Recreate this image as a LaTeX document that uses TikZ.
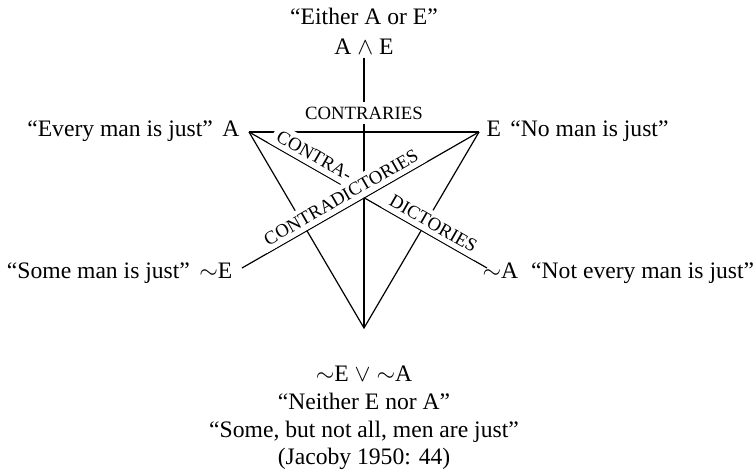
\documentclass[tikz,border=0pt]{standalone}
\usepackage{fontspec}
\setmainfont{Liberation Serif}
\begin{document}
\begin{tikzpicture}[x=0.5bp, y=0.5bp, line width=0.6bp,
    txt/.style={font=\fontsize{11.85}{14}\selectfont, inner sep=0pt},
    lab/.style={font=\fontsize{9.4}{11}\selectfont, fill=white, inner sep=2.5bp}]
    \useasboundingbox (0,0) rectangle (756,475);

    % corners
    \coordinate (A) at (249,343);
    \coordinate (E) at (479,343);
    \coordinate (nE) at (242,207);
    \coordinate (nA) at (487,207);
    \coordinate (bot) at (364,147);

    % top
    \node[txt, anchor=base] (either) at (364,450) {“Either A or E”};
    \node[txt, anchor=base, inner sep=1bp] (AE) at (364,420) {A $\wedge$ E};

    % corner texts
    \node[txt, anchor=base east] (Alab) at (240,338) {“Every man is just”\hspace{0.4em}A};
    \node[txt, anchor=base west] (Elab) at (486,338) {E\hspace{0.4em}“No man is just”};
    \node[txt, anchor=base east] (nElab) at (233,196) {“Some man is just”\hspace{0.4em}$\sim$E};
    \node[txt, anchor=base west] (nAlab) at (482,196) {$\sim$A\hspace{0.55em}“Not every man is just”};

    % bottom
    \node[txt, anchor=base] (neither) at (364,93) {$\sim$E $\vee$ $\sim$A};
    \node[txt, anchor=base] (q1) at (364,65) {“Neither E nor A”};
    \node[txt, anchor=base] (q2) at (364,37) {“Some, but not all, men are just”};
    \node[txt, anchor=base] (src) at (364,10) {(Jacoby 1950: 44)};

    % lines
    \draw (A) -- (E);
    \draw (AE.south) -- (bot);
    \draw (A) -- (bot) -- (E);
    \draw (A) -- (nA);
    \draw (E) -- (nE);

    % labels
    \node[lab] (contr) at (364,362) {CONTRARIES};
    \path (A) -- node[lab, sloped, above, pos=0.25] (cd1) {CONTRA-}
                 node[lab, sloped, above, pos=0.75] (cd2) {DICTORIES} (nA);
    \path (nE) -- node[lab, sloped, above, pos=0.443] (cd3) {CONTRADICTORIES} (E);
\end{tikzpicture}
\end{document}
